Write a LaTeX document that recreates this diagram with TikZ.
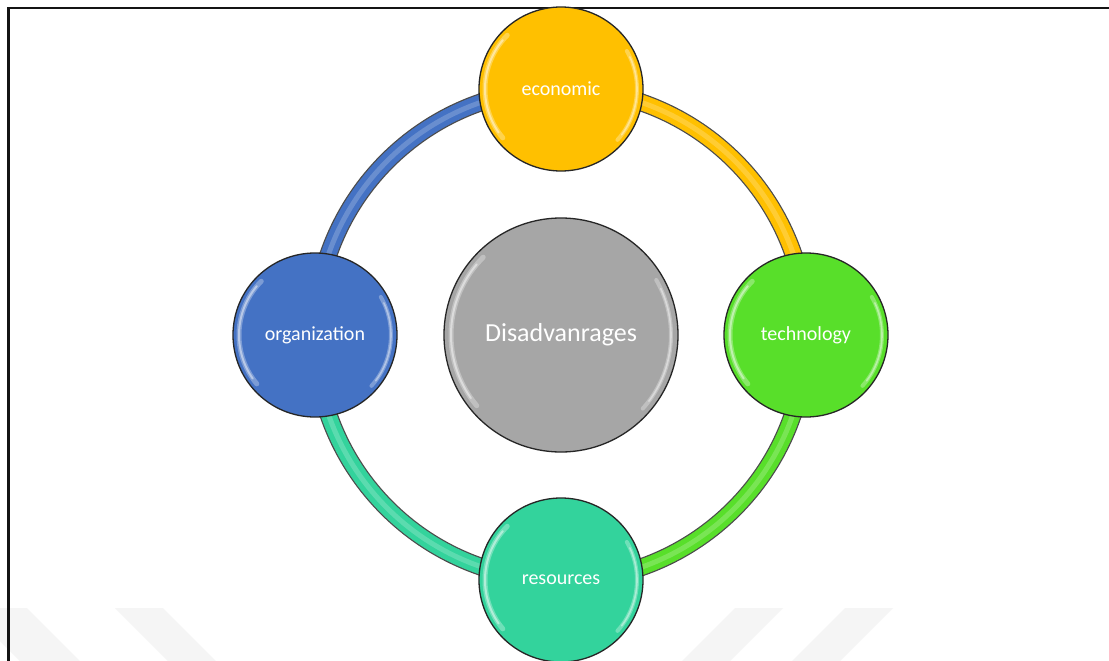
\documentclass[tikz,border=0pt]{standalone}
\usepackage{fontspec}
\setmainfont{Carlito}
\definecolor{ceco}{HTML}{FFC000}
\definecolor{ctech}{HTML}{58DF2A}
\definecolor{cres}{HTML}{33D39C}
\definecolor{corg}{HTML}{4472C4}
\definecolor{cgray}{HTML}{A6A6A6}
\definecolor{wmark}{HTML}{F5F5F5}
\newcommand\glossring[2]{%
  \draw[white,opacity=.3,line width=5pt,line cap=round]
    ([shift={(140:#2)}]#1) arc[start angle=140,end angle=225,radius=#2];
  \draw[white,opacity=.45,line width=2pt,line cap=round]
    ([shift={(145:#2)}]#1) arc[start angle=145,end angle=220,radius=#2];
  \draw[white,opacity=.3,line width=4pt,line cap=round]
    ([shift={(-30:#2)}]#1) arc[start angle=-30,end angle=42,radius=#2];
  \draw[white,opacity=.4,line width=1.6pt,line cap=round]
    ([shift={(-25:#2)}]#1) arc[start angle=-25,end angle=37,radius=#2];
}
\newcommand\tube[4]{% start coord, start angle, end angle, colour
  \draw[line width=18pt,draw=black!70] (#1) arc[start angle=#2,end angle=#3,radius=246];
  \draw[line width=15.5pt,draw=#4] (#1) arc[start angle=#2,end angle=#3,radius=246];
  \draw[line width=5pt,draw=white,opacity=.2] (#1) arc[start angle=#2,end angle=#3,radius=246];
}
\begin{document}
\begin{tikzpicture}[x=1pt,y=-1pt,
  bub/.style={circle,draw=black!85,line width=1.3pt,minimum size=164pt,inner sep=0pt,
    text=white,font=\fontsize{20}{24}\selectfont},
  frameline/.style={line width=2.4pt,draw=black!92},
  wm/.style={fill=wmark,draw=none}]
\useasboundingbox (0,0) rectangle (1109,661);
\fill[white] (0,0) rectangle (1109,661);
% watermark chevrons
\fill[wm] (-33,608) -- (27,608) -- (80,661) -- (20,661) -- cycle;
\fill[wm] (115,608) -- (163,608) -- (216,661) -- (168,661) -- cycle;
\fill[wm] (735,608) -- (783,608) -- (730,661) -- (682,661) -- cycle;
\fill[wm] (845,608) -- (893,608) -- (840,661) -- (792,661) -- cycle;
% frame
\coordinate (ftl) at (8.5,8);
\coordinate (ftr) at (1109,8);
\coordinate (fbl) at (8.5,661);
\draw[frameline] (ftr) -- (ftl) -- (fbl);
% positions
\coordinate (pc) at (561,335);
\coordinate (pe) at (561,89);
\coordinate (pt) at (806,335);
\coordinate (pr) at (561,580);
\coordinate (po) at (315,335);
% ring tubes
\tube{po}{180}{270}{corg}
\tube{pe}{270}{360}{ceco}
\tube{pt}{0}{90}{ctech}
\tube{pr}{90}{180}{cres}
% bubbles
\node[bub,fill=ceco] (eco) at (pe) {economic};
\node[bub,fill=ctech] (tech) at (pt) {technology};
\node[bub,fill=cres] (res) at (pr) {resources};
\node[bub,fill=corg] (org) at (po) {organization};
\node[bub,fill=cgray,minimum size=234pt,font=\fontsize{26}{30}\selectfont] (dis) at (pc) {Disadvanrages};
\glossring{eco}{76}
\glossring{tech}{76}
\glossring{res}{76}
\glossring{org}{76}
\glossring{dis}{110}
\end{tikzpicture}
\end{document}
